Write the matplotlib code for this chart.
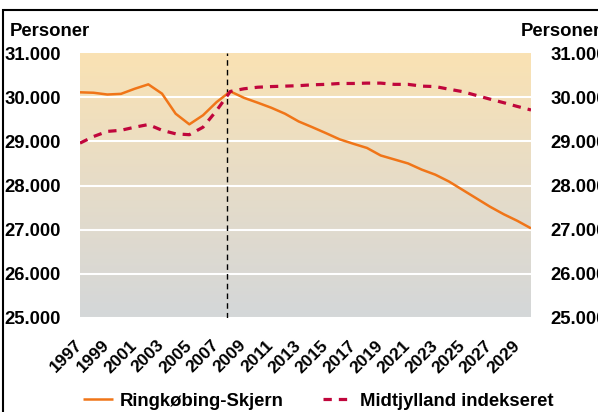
#imports
import numpy as np
import matplotlib.pyplot as plt
from matplotlib.colors import LinearSegmentedColormap
from matplotlib.patches import Rectangle

#data: population per year, 1997-2030
years = list(range(1997, 2031))
ringkobing = [30110, 30100, 30060, 30075, 30190, 30290, 30080, 29625, 29385, 29590,
              29890, 30130, 29985, 29875, 29760, 29625, 29450, 29320, 29185, 29045,
              28945, 28850, 28680, 28590, 28500, 28360, 28245, 28090, 27900, 27710,
              27520, 27350, 27200, 27030]
midtjylland = [28960, 29110, 29225, 29250, 29320, 29380, 29250, 29170, 29150, 29320,
               29700, 30130, 30190, 30225, 30240, 30250, 30260, 30280, 30290, 30310,
               30310, 30318, 30318, 30290, 30290, 30250, 30240, 30180, 30125, 30040,
               29955, 29875, 29790, 29710]
year_labels = [str(y) for y in range(1997, 2030, 2)]
y_ticks = [25000, 26000, 27000, 28000, 29000, 30000, 31000]
split_year = 2007.75

font = {"family": "Liberation Sans", "weight": "bold"}

fig = plt.figure(figsize=(5.98, 4.12), dpi=100)
ax = fig.add_axes([80 / 598, 1 - 318 / 412, 451 / 598, 265 / 412])

#gradient background from light orange (top) to grey (bottom)
cmap = LinearSegmentedColormap.from_list("bg", ["#d4d7d9", "#e6dcc8", "#fae2b3"])
ax.imshow(np.linspace(0, 1, 256).reshape(-1, 1), cmap=cmap, aspect="auto",
          extent=(1997, 2030, 25000, 31000), origin="lower", zorder=0)

#white horizontal gridlines
for t in y_ticks[:-1]:
    ax.axhline(t, color="white", lw=1.5, zorder=1)

ax.plot(years, ringkobing, color="#f07518", lw=1.8, zorder=3,
        label="Ringkøbing-Skjern", solid_capstyle="butt")
ax.plot(years, midtjylland, color="#c0063c", lw=2.3, zorder=3,
        dashes=(2.6, 2.2), label="Midtjylland indekseret")
ax.axvline(split_year, color="black", lw=1.0, dashes=(4, 3), zorder=2)

ax.set_xlim(1997, 2030)
ax.set_ylim(25000, 31000)
ax.set_xticks(range(1997, 2030, 2))
ax.set_xticklabels(year_labels, rotation=45, ha="right", va="center",
                   rotation_mode="anchor", fontsize=12.5, **font)
ax.set_yticks(y_ticks)
ax.set_yticklabels([f"{t:,}".replace(",", ".") for t in y_ticks], fontsize=13.3, **font)
ax.tick_params(axis="x", length=0, pad=18)
ax.tick_params(axis="y", length=0, pad=14, labelright=True)
for s in ax.spines.values():
    s.set_visible(False)

fig.text(10 / 598, 1 - 31 / 412, "Personer", fontsize=13.3, va="center", ha="left", **font)
fig.text(521 / 598, 1 - 31 / 412, "Personer", fontsize=13.3, va="center", ha="left", **font)

#outer black frame (partly cut off at the right and bottom)
fig.patches.append(Rectangle((3 / 598, -0.1), 1.2, 1 - 10 / 412 + 0.1, transform=fig.transFigure,
                             fill=False, edgecolor="black", lw=1.5))

leg = fig.legend(loc="center left", bbox_to_anchor=(83 / 598, 1 - 401 / 412), ncol=2,
                 frameon=False, borderpad=0, borderaxespad=0,
                 handlelength=1.65, handletextpad=0.35, columnspacing=2.1,
                 prop={"family": "Liberation Sans", "weight": "bold", "size": 13.3})

fig.savefig("out.png", dpi=100)
